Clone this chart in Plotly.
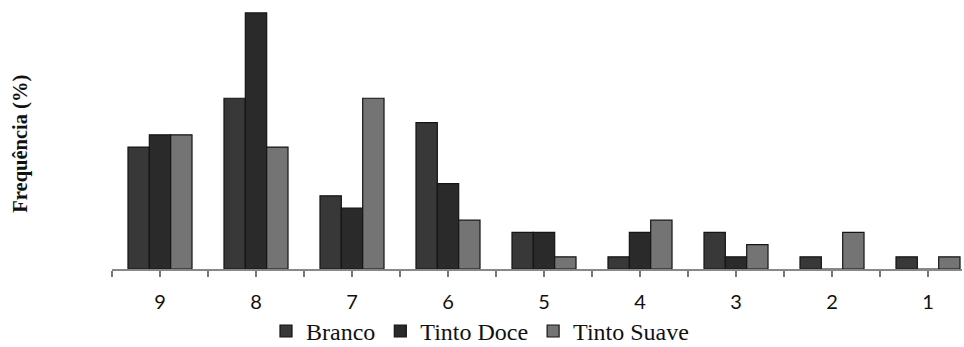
import plotly.graph_objects as go

categories = ["9", "8", "7", "6", "5", "4", "3", "2", "1"]
branco = [20, 28, 12, 24, 6, 2, 6, 2, 2]
tinto_doce = [22, 42, 10, 14, 6, 6, 2, 0, 0]
tinto_suave = [22, 20, 28, 8, 2, 8, 4, 6, 2]

series = [
    ("Branco", branco, "#383838"),
    ("Tinto Doce", tinto_doce, "#2a2a2a"),
    ("Tinto Suave", tinto_suave, "#747474"),
]

xpos = list(range(len(categories)))

fig = go.Figure()
for name, vals, col in series:
    fig.add_trace(go.Bar(
        x=xpos, y=vals, name=name,
        marker=dict(color=col, line=dict(color="#151515", width=1.2)),
    ))

tickvals = []
ticktext = []
for i, c in enumerate(categories):
    tickvals += [i - 0.5, i]
    ticktext += ["", c]
tickvals.append(len(categories) - 0.5)
ticktext.append("")

serif = "Liberation Serif, Times New Roman, DejaVu Serif, serif"

fig.update_layout(
    width=964, height=347,
    margin=dict(l=112, r=2, t=8, b=78),
    paper_bgcolor="white", plot_bgcolor="white",
    barmode="group", bargap=0.333, bargroupgap=0,
    showlegend=True,
    legend=dict(orientation="h", xref="container", x=480 / 964, xanchor="center",
                yref="container", y=0.045, yanchor="middle",
                font=dict(family=serif, size=24, color="#111"),
                itemwidth=30, traceorder="normal"),
    xaxis=dict(range=[-0.5, 8.354], tickmode="array", tickvals=tickvals, ticktext=ticktext,
               ticks="outside", ticklen=6, tickcolor="#777", tickwidth=1.5,
               showline=True, linecolor="#888", linewidth=1.5, showgrid=False, zeroline=False,
               tickfont=dict(family="Lato", size=20, color="#111"), ticklabelstandoff=8,
               automargin=False),
    yaxis=dict(range=[0, 42.8], showticklabels=False, showgrid=False, zeroline=False,
               showline=False, ticks="", automargin=False),
    annotations=[dict(text="<b>Frequência (%)</b>", xref="paper", yref="paper",
                      x=(21 - 112) / 850, y=0.48, xanchor="center", yanchor="middle",
                      textangle=-90, showarrow=False,
                      font=dict(family=serif, size=20.5, color="#111"))],
)

fig.write_html("out.html", config={"displayModeBar": False},
               post_script="document.body.style.margin='0';document.body.style.overflow='hidden';")
